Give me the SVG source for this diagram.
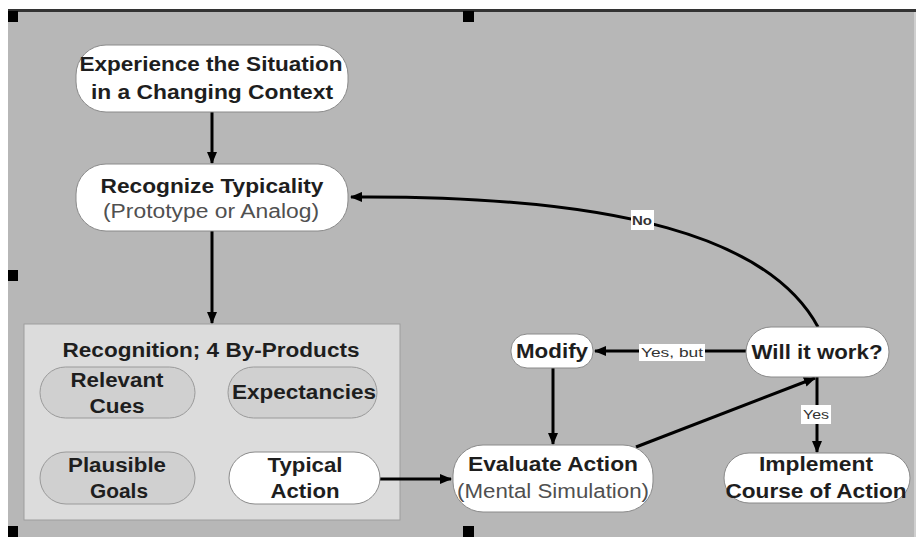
<svg xmlns="http://www.w3.org/2000/svg" width="916" height="537" viewBox="0 0 916 537">
<defs>
<style>
.node{fill:#ffffff;stroke:#8a8a8a;stroke-width:1}
.pill{fill:#d0d0d0;stroke:#9a9a9a;stroke-width:1}
.t{font-family:"Liberation Sans",Arial,sans-serif;font-weight:bold;font-size:20px;fill:#1e1e1e;text-anchor:middle}
.s{font-family:"Liberation Sans",Arial,sans-serif;font-weight:normal;font-size:20px;fill:#505050;text-anchor:middle}
.l{font-family:"Liberation Sans",Arial,sans-serif;font-weight:bold;font-size:13px;fill:#333;text-anchor:middle}
.c{fill:none;stroke:#000;stroke-width:3}
.lb{fill:#ffffff}
.h{fill:#000}
</style>
<marker id="ah" markerUnits="userSpaceOnUse" markerWidth="12" markerHeight="10" refX="11" refY="5" orient="auto">
<path d="M0,0 L12,5 L0,10 z" fill="#000"/>
</marker>
</defs>
<rect x="0" y="0" width="916" height="537" fill="#ffffff"/>
<rect x="8" y="11" width="908" height="526" fill="#b7b7b7"/>
<rect x="8" y="9" width="908" height="3" fill="#333333"/>
<rect x="914" y="12" width="2" height="525" fill="#cfcfcf"/>

<g id="handles">
<rect class="h" x="8" y="11" width="10" height="11"/>
<rect class="h" x="463" y="11" width="11" height="11"/>
<rect class="h" x="8" y="270" width="10" height="11"/>
<rect class="h" x="8" y="526" width="10" height="11"/>
<rect class="h" x="463" y="526" width="11" height="11"/>
</g>

<g id="container">
<rect x="24" y="324" width="376" height="196" fill="#dcdcdc" stroke="#9e9e9e" stroke-width="1"/>
<text class="t" x="211" y="357" textLength="297" lengthAdjust="spacingAndGlyphs">Recognition; 4 By-Products</text>
</g>

<g id="connectors">
<line class="c" x1="212" y1="112" x2="212" y2="163" marker-end="url(#ah)"/>
<line class="c" x1="212" y1="231" x2="212" y2="323" marker-end="url(#ah)"/>
<line class="c" x1="380" y1="479" x2="451" y2="479" marker-end="url(#ah)"/>
<line class="c" x1="553" y1="368" x2="553" y2="444" marker-end="url(#ah)"/>
<line class="c" x1="636" y1="447" x2="815" y2="378" marker-end="url(#ah)"/>
<line class="c" x1="746" y1="351" x2="595" y2="351" marker-end="url(#ah)"/>
<line class="c" x1="817" y1="377" x2="817" y2="452" marker-end="url(#ah)"/>
<path class="c" d="M818,327 C770,238 620,195 351,197" marker-end="url(#ah)"/>
<rect class="lb" x="631" y="210" width="23" height="20"/>
<text class="l" x="642" y="225" textLength="20" lengthAdjust="spacingAndGlyphs">No</text>
<rect class="lb" x="639" y="344" width="66" height="17"/>
<text class="l" x="672" y="357" textLength="62" lengthAdjust="spacingAndGlyphs" style="font-weight:normal">Yes, but</text>
<rect class="lb" x="801" y="405" width="30" height="19"/>
<text class="l" x="816" y="419" textLength="26" lengthAdjust="spacingAndGlyphs" style="font-weight:normal">Yes</text>
</g>

<g id="experience">
<rect class="node" x="76" y="45" width="272" height="67" rx="30"/>
<text class="t" x="211" y="71" textLength="263" lengthAdjust="spacingAndGlyphs">Experience the Situation</text>
<text class="t" x="212" y="99" textLength="242" lengthAdjust="spacingAndGlyphs">in a Changing Context</text>
</g>

<g id="recognize">
<rect class="node" x="76" y="164" width="272" height="67" rx="30"/>
<text class="t" x="212" y="193" textLength="223" lengthAdjust="spacingAndGlyphs">Recognize Typicality</text>
<text class="s" x="211" y="218" textLength="216" lengthAdjust="spacingAndGlyphs">(Prototype or Analog)</text>
</g>

<g id="cues">
<rect class="pill" x="40" y="367" width="155" height="51" rx="25.5"/>
<text class="t" x="117" y="387" textLength="93" lengthAdjust="spacingAndGlyphs">Relevant</text>
<text class="t" x="117" y="413" textLength="55" lengthAdjust="spacingAndGlyphs">Cues</text>
</g>

<g id="expectancies">
<rect class="pill" x="228" y="367" width="149" height="51" rx="25.5"/>
<text class="t" x="304" y="399" textLength="144" lengthAdjust="spacingAndGlyphs">Expectancies</text>
</g>

<g id="goals">
<rect class="pill" x="40" y="452" width="155" height="52" rx="26"/>
<text class="t" x="117" y="472" textLength="98" lengthAdjust="spacingAndGlyphs">Plausible</text>
<text class="t" x="119" y="498" textLength="58" lengthAdjust="spacingAndGlyphs">Goals</text>
</g>

<g id="typical">
<rect class="node" x="229" y="452" width="151" height="52" rx="26"/>
<text class="t" x="305" y="472" textLength="75" lengthAdjust="spacingAndGlyphs">Typical</text>
<text class="t" x="305" y="498" textLength="69" lengthAdjust="spacingAndGlyphs">Action</text>
</g>

<g id="modify">
<rect class="node" x="511" y="334" width="82" height="34" rx="16"/>
<text class="t" x="552" y="358" textLength="72" lengthAdjust="spacingAndGlyphs" style="font-size:21px">Modify</text>
</g>

<g id="willwork">
<rect class="node" x="746" y="327" width="143" height="50" rx="25"/>
<text class="t" x="817" y="359" textLength="131" lengthAdjust="spacingAndGlyphs" style="font-size:21px">Will it work?</text>
</g>

<g id="evaluate">
<rect class="node" x="453" y="445" width="200" height="67" rx="30"/>
<text class="t" x="553" y="471" textLength="170" lengthAdjust="spacingAndGlyphs">Evaluate Action</text>
<text class="s" x="553" y="498" textLength="192" lengthAdjust="spacingAndGlyphs">(Mental Simulation)</text>
</g>

<g id="implement">
<rect class="node" x="724" y="453" width="186" height="50" rx="25"/>
<text class="t" x="816" y="471" textLength="114" lengthAdjust="spacingAndGlyphs">Implement</text>
<text class="t" x="816" y="498" textLength="181" lengthAdjust="spacingAndGlyphs">Course of Action</text>
</g>
</svg>
